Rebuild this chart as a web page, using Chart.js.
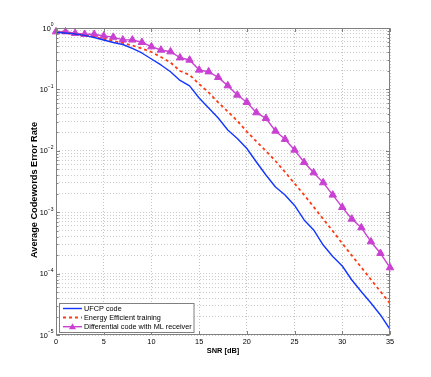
<!DOCTYPE html>
<html><head><meta charset="utf-8">
<script src="https://cdn.jsdelivr.net/npm/chart.js@4.4.0/dist/chart.umd.min.js"></script>
<style>html,body{margin:0;padding:0;background:#fff;}canvas{display:block}</style>
</head><body>
<canvas id="c" width="431" height="377"></canvas>
<script>
const snr = [0,1,2,3,4,5,6,7,8,9,10,11,12,13,14,15,16,17,18,19,20,21,22,23,24,25,26,27,28,29,30,31,32,33,34,35];
const ufcp = [0.851,0.83,0.80,0.76,0.70,0.638,0.581,0.539,0.464,0.392,0.313,0.250,0.194,0.140,0.114,0.0725,0.0498,0.0342,0.0218,0.0159,0.0109,0.00657,0.00404,0.00257,0.00191,0.00129,0.000747,0.000513,0.000292,0.000190,0.000133,0.0000787,0.0000507,0.0000332,0.0000212,0.0000124];
const energy = [0.861,0.829,0.798,0.755,0.714,0.662,0.614,0.570,0.519,0.464,0.407,0.337,0.274,0.1995,0.172,0.1225,0.0891,0.0612,0.0437,0.0306,0.0206,0.01416,0.00993,0.00682,0.00451,0.00293,0.00191,0.00122,0.000775,0.000494,0.000309,0.000197,0.000126,0.0000802,0.0000511,0.0000326];
const diffML = [0.87,0.87,0.82,0.79,0.79,0.74,0.71,0.64,0.64,0.585,0.496,0.438,0.411,0.328,0.301,0.207,0.194,0.157,0.115,0.081,0.0617,0.0418,0.0338,0.0210,0.0154,0.0103,0.0065,0.0044,0.00303,0.00191,0.00120,0.000775,0.000560,0.000331,0.000214,0.000125];
const seriesNames = ['UFCP code','Energy Efficient training','Differential code with ML receiver'];
const xTickValues = [0,5,10,15,20,25,30,35];
const yDecadeExponents = [-5,-4,-3,-2,-1,0];
const xTitle = 'SNR [dB]';
const yTitle = 'Average Codewords Error Rate';

const yGridValues = [];
yDecadeExponents.forEach(e => {
  if (e === 0) { yGridValues.push(1); return; }
  for (let m = 1; m <= 9; m++) yGridValues.push(+(m * Math.pow(10, e)).toPrecision(3));
});

const FONT = '"Liberation Sans", Arial, Helvetica, sans-serif';
const toPts = arr => arr.map((v, i) => ({x: snr[i], y: v}));

const frame = {
  id: 'frame',
  afterDraw(chart) {
    const ctx = chart.ctx, ca = chart.chartArea;
    const xs = chart.scales.x, ys = chart.scales.y;
    ctx.save();
    ctx.strokeStyle = '#808080'; ctx.lineWidth = 1;
    const L = Math.round(ca.left) + 0.5, R = Math.round(ca.right) - 0.5;
    const T = Math.round(ca.top) + 0.5, B = Math.round(ca.bottom) - 0.5;
    ctx.strokeRect(L, T, R - L, B - T);
    ctx.beginPath();
    xTickValues.forEach(v => {
      const px = Math.round(xs.getPixelForValue(v)) + 0.5;
      ctx.moveTo(px, B); ctx.lineTo(px, B - 3.5);
      ctx.moveTo(px, T); ctx.lineTo(px, T + 3.5);
    });
    yGridValues.forEach(v => {
      const py = Math.round(ys.getPixelForValue(v)) + 0.5;
      const major = Math.abs(Math.log10(v) - Math.round(Math.log10(v))) < 1e-6;
      const len = major ? 3.5 : 2;
      ctx.moveTo(L, py); ctx.lineTo(L + len, py);
      ctx.moveTo(R, py); ctx.lineTo(R - len, py);
    });
    ctx.stroke();
    ctx.fillStyle = '#000';
    ctx.font = '7.3px ' + FONT;
    ctx.textAlign = 'center'; ctx.textBaseline = 'middle';
    xTickValues.forEach(v => ctx.fillText(String(v), xs.getPixelForValue(v), 342));
    yDecadeExponents.forEach(e => {
      const py = ys.getPixelForValue(Math.pow(10, e));
      const ex = e === 0 ? '0' : '\u2212' + Math.abs(e);
      ctx.font = '5px ' + FONT;
      const ew = ctx.measureText(ex).width;
      const right = 53.5;
      ctx.textAlign = 'left'; ctx.textBaseline = 'middle';
      ctx.fillText(ex, right - ew, py - 3);
      ctx.font = '7.3px ' + FONT;
      ctx.textAlign = 'right';
      ctx.fillText('10', right - ew, py + 0.5);
    });
    ctx.font = 'bold 7.4px ' + FONT;
    ctx.textAlign = 'center'; ctx.textBaseline = 'middle';
    ctx.fillText(xTitle, (ca.left + ca.right) / 2, 351);
    ctx.save();
    ctx.translate(34, 190);
    ctx.rotate(-Math.PI / 2);
    ctx.font = 'bold 9.2px ' + FONT;
    ctx.fillText(yTitle, 0, 0);
    ctx.restore();
    const lx = 59.5, ly = 303.5, lw = 134.5, lh = 29;
    ctx.fillStyle = '#fff';
    ctx.fillRect(lx, ly, lw, lh);
    ctx.strokeStyle = '#808080';
    ctx.strokeRect(lx, ly, lw, lh);
    const rows = [308.5, 317.5, 326.7];
    chart.data.datasets.forEach((ds, i) => {
      const y = rows[i];
      ctx.save();
      ctx.strokeStyle = ds.borderColor;
      ctx.lineWidth = ds.borderWidth;
      ctx.setLineDash(ds.borderDash || []);
      ctx.beginPath(); ctx.moveTo(63, y); ctx.lineTo(82, y); ctx.stroke();
      ctx.setLineDash([]);
      if (ds.pointRadius > 0) {
        ctx.fillStyle = ds.pointBackgroundColor;
        const r = 3.5;
        ctx.beginPath();
        ctx.moveTo(72.5, y - r);
        ctx.lineTo(72.5 + r, y + r * 0.7);
        ctx.lineTo(72.5 - r, y + r * 0.7);
        ctx.closePath(); ctx.fill();
      }
      ctx.restore();
      ctx.fillStyle = '#000';
      ctx.font = '7.3px ' + FONT;
      ctx.textAlign = 'left'; ctx.textBaseline = 'middle';
      ctx.fillText(ds.label, 84, y + 0.5);
    });
    ctx.restore();
  }
};

new Chart(document.getElementById('c'), {
  type: 'line',
  data: {
    datasets: [
      {label: seriesNames[0], data: toPts(ufcp), borderColor: '#1336ff', borderWidth: 1.4, pointRadius: 0, tension: 0, fill: false},
      {label: seriesNames[1], data: toPts(energy), borderColor: '#ff3a14', borderWidth: 1.8, borderDash: [3, 3], pointRadius: 0, tension: 0, fill: false},
      {label: seriesNames[2], data: toPts(diffML), borderColor: '#c940d2', borderWidth: 1.4, pointRadius: 4.3, pointStyle: 'triangle', pointBackgroundColor: '#c940d2', pointBorderColor: '#c940d2', pointBorderWidth: 1, tension: 0, fill: false, clip: false}
    ]
  },
  options: {
    responsive: false,
    animation: false,
    devicePixelRatio: 1,
    layout: {padding: {left: 56, right: 41, top: 28, bottom: 42}},
    plugins: {legend: {display: false}, tooltip: {enabled: false}},
    elements: {line: {borderJoinStyle: 'round'}},
    scales: {
      x: {
        type: 'linear', min: 0, max: 35,
        afterBuildTicks: s => { s.ticks = xTickValues.map(v => ({value: v})); },
        ticks: {display: false},
        grid: {color: '#c4c4c4', lineWidth: 1, drawTicks: false},
        border: {display: false, dash: [1, 2]}
      },
      y: {
        type: 'logarithmic', min: 1e-5, max: 1,
        afterBuildTicks: s => { s.ticks = yGridValues.map(v => ({value: v})); },
        ticks: {display: false},
        grid: {color: '#cccccc', lineWidth: 1, drawTicks: false},
        border: {display: false, dash: [1, 2]}
      }
    }
  },
  plugins: [frame]
});
</script>
</body></html>
